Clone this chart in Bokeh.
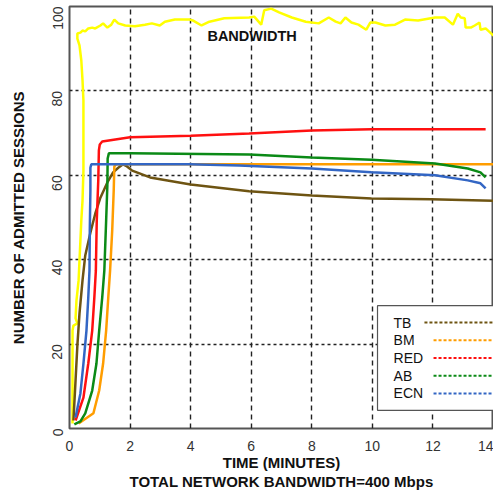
import math
from bokeh.plotting import figure
from bokeh.models import Range1d, Label, Title, FixedTicker
from bokeh.core.properties import value
from bokeh.embed import file_html
from bokeh.resources import INLINE

# ---- data (time in minutes, number of admitted sessions) ----
bw_t = [0.10, 0.10, 0.13, 0.26, 0.20, 0.23, 0.30, 0.33, 0.36, 0.39, 0.43, 0.46, 0.46, 0.46, 0.43,
        0.39, 0.33, 0.26, 0.26, 0.36, 0.43, 0.52, 0.62, 0.75, 0.85, 1.02, 1.11, 1.25, 1.38, 1.48,
        1.61, 1.84, 2.16, 2.49, 2.72, 2.98, 3.15, 3.48, 3.97, 4.07, 4.36, 4.62, 5.11, 5.93, 6.10,
        6.33, 6.43, 6.66, 6.92, 7.34, 7.80, 8.23, 8.56, 8.79, 8.95, 9.11, 9.31, 9.54, 9.80, 9.93,
        10.10, 10.43, 10.75, 11.08, 11.51, 12.07, 12.39, 12.66, 12.82, 12.92, 13.05, 13.08, 13.25,
        13.38, 13.54, 13.57, 13.74, 14.00]
bw_v = [1.2, 23.2, 24.4, 24.9, 26.1, 30.3, 35.1, 39.8, 44.5, 49.3, 54.0, 61.1, 70.6, 77.7, 82.5,
        87.2, 90.8, 92.4, 93.6, 93.8, 94.3, 94.1, 94.8, 95.0, 94.8, 95.5, 96.0, 95.0, 95.7, 96.9,
        96.0, 95.5, 95.3, 95.7, 96.0, 95.5, 96.4, 96.9, 96.9, 96.7, 95.5, 96.4, 97.2, 97.4, 97.6,
        95.7, 99.1, 99.5, 98.6, 97.4, 96.4, 96.0, 97.4, 96.4, 96.0, 97.4, 96.2, 95.7, 94.5, 96.2,
        96.2, 95.5, 95.7, 96.9, 96.7, 97.4, 97.4, 95.7, 98.3, 97.4, 97.2, 95.0, 95.0,
        95.5, 96.2, 94.5, 94.8, 93.1]

tb_t = [0.13, 0.20, 0.26, 0.33, 0.43, 0.52, 0.69, 0.85, 1.02, 1.25, 1.44, 1.61, 1.77, 1.90, 2.07,
        2.66, 4.00, 5.93, 8.00, 9.97, 11.93, 14.50]
tb_v = [1.9, 11.4, 19.7, 27.3, 35.1, 41.0, 46.4, 50.9, 54.7, 58.3, 60.7, 61.8, 62.6, 62.1, 61.1,
        59.5, 57.8, 56.2, 55.2, 54.5, 54.3, 53.9]

bm_t = [0.30, 0.79, 0.98, 1.11, 1.21, 1.28, 1.34, 1.41, 1.46, 1.48, 1.54, 14.50]
bm_v = [1.2, 3.6, 9.0, 15.4, 23.2, 31.0, 37.4, 46.9, 56.4, 62.1, 62.6, 62.6]

red_t = [0.20, 0.46, 0.62, 0.75, 0.82, 0.87, 0.90, 0.95, 0.97, 1.00, 1.08, 2.00, 4.00, 5.93, 8.00,
         9.97, 13.74]
red_v = [1.9, 7.3, 15.4, 23.2, 31.0, 37.4, 49.3, 58.8, 65.9, 67.3, 68.0, 69.0, 69.4, 69.9, 70.6,
         70.9, 70.9]

ab_t = [0.16, 0.36, 0.52, 0.75, 0.89, 0.98, 1.08, 1.15, 1.21, 1.25, 1.26, 1.30, 2.00, 5.93, 8.00,
        9.97, 12.07, 13.15, 13.57, 13.74]
ab_v = [1.0, 1.7, 3.6, 9.0, 15.4, 23.2, 31.0, 37.4, 49.3, 57.6, 64.0, 65.2, 65.2, 64.9, 64.2,
        63.7, 62.8, 61.6, 60.7, 59.5]

ecn_t = [0.20, 0.36, 0.46, 0.56, 0.62, 0.66, 0.67, 0.69, 0.69, 0.72, 2.00, 3.97, 5.60, 8.00, 9.97,
         12.07, 13.15, 13.57, 13.74]
ecn_v = [2.6, 8.3, 15.4, 23.2, 31.0, 37.4, 46.9, 56.4, 61.8, 62.6, 62.6, 62.6, 62.3, 61.6, 60.7,
         60.0, 58.8, 58.1, 56.9]

series_names = ["TB", "BM", "RED", "AB", "ECN"]
series_colors = ["#6e5412", "#ff9d00", "#ff1010", "#0b8a16", "#3366c4"]
series_t = [tb_t, bm_t, red_t, ab_t, ecn_t]
series_v = [tb_v, bm_v, red_v, ab_v, ecn_v]

x_ticks = [0, 2, 4, 6, 8, 10, 12, 14]
y_ticks = [0, 20, 40, 60, 80, 100]

FONT = "Liberation Sans"

p = figure(width=493, height=495, output_backend="svg", toolbar_location=None,
           x_range=Range1d(0, 14.0), y_range=Range1d(0, 100),
           min_border_left=69, min_border_right=0, min_border_top=6, min_border_bottom=67)
p.background_fill_color = "white"
p.border_fill_color = "white"
p.outline_line_color = "#555555"
p.outline_line_width = 2

# grid
p.xgrid.ticker = FixedTicker(ticks=[2, 4, 6, 8, 10, 12])
p.ygrid.ticker = FixedTicker(ticks=[20, 40, 60, 80])
p.xgrid.grid_line_color = "#222222"
p.xgrid.grid_line_dash = "5 4"
p.xgrid.grid_line_width = 1.4
p.ygrid.grid_line_color = "#222222"
p.ygrid.grid_line_dash = "3 3"
p.ygrid.grid_line_width = 1.4

# axes
for ax in (p.xaxis[0], p.yaxis[0]):
    ax.axis_line_color = None
    ax.major_tick_line_color = None
    ax.minor_tick_line_color = None
    ax.major_tick_out = 0
    ax.major_tick_in = 0
    ax.minor_tick_out = 0
    ax.minor_tick_in = 0
    ax.major_label_text_font = FONT
    ax.major_label_text_font_size = "14px"
    ax.major_label_text_color = "#333333"
    ax.axis_label_text_font = FONT
    ax.axis_label_text_font_size = "15px"
    ax.axis_label_text_font_style = "bold"
    ax.axis_label_text_color = "#111111"

p.xaxis.ticker = FixedTicker(ticks=x_ticks)
p.yaxis.ticker = FixedTicker(ticks=y_ticks)
p.yaxis.major_label_orientation = math.pi / 2
p.yaxis.major_label_standoff = 12
p.yaxis.axis_label = "NUMBER OF ADMITTED SESSIONS"
p.yaxis.axis_label_standoff = 18
p.xaxis.major_label_standoff = 12
p.xaxis.axis_label = "TIME (MINUTES)"
p.xaxis.axis_label_standoff = 0

sub = Title(text="TOTAL NETWORK BANDWIDTH=400 Mbps", align="center",
            text_font=FONT, text_font_size="15px", text_font_style="bold",
            text_color="#111111", standoff=-5)
p.add_layout(sub, "below")

# curves
p.line(bw_t, bw_v, line_color="#ffff00", line_width=2.5)
for t, v, c in zip(series_t, series_v, series_colors):
    p.line(t, v, line_color=c, line_width=2.5)

p.add_layout(Label(x=6.03, y=93.1, text="BANDWIDTH", text_align="center",
                   text_baseline="middle", text_font=FONT, text_font_size="14.5px",
                   text_font_style="bold", text_color="#111111"))

# legend (label first, then dotted line sample)
leg_left, leg_top, leg_bottom = 10.17, 29.1, 4.3
p.quad(left=[leg_left], right=[15.0], bottom=[leg_bottom], top=[leg_top],
       fill_color="white", line_color="#555555", line_width=1.2)
row_h = 4.2
for i, (name, c) in enumerate(zip(series_names, series_colors)):
    yy = leg_top - 4.0 - i * row_h
    p.text(x=[leg_left + 0.53], y=[yy], text=[name], text_font=value(FONT),
           text_font_size="14px", text_color="#111111", text_baseline="middle",
           text_align="left")
    x0 = leg_left + (1.55 if i == 0 else 1.85)
    p.segment(x0=[x0], y0=[yy], x1=[15.0], y1=[yy], line_color=c,
              line_width=2, line_dash="3 2")

open("out.html", "w").write(file_html(p, INLINE))
